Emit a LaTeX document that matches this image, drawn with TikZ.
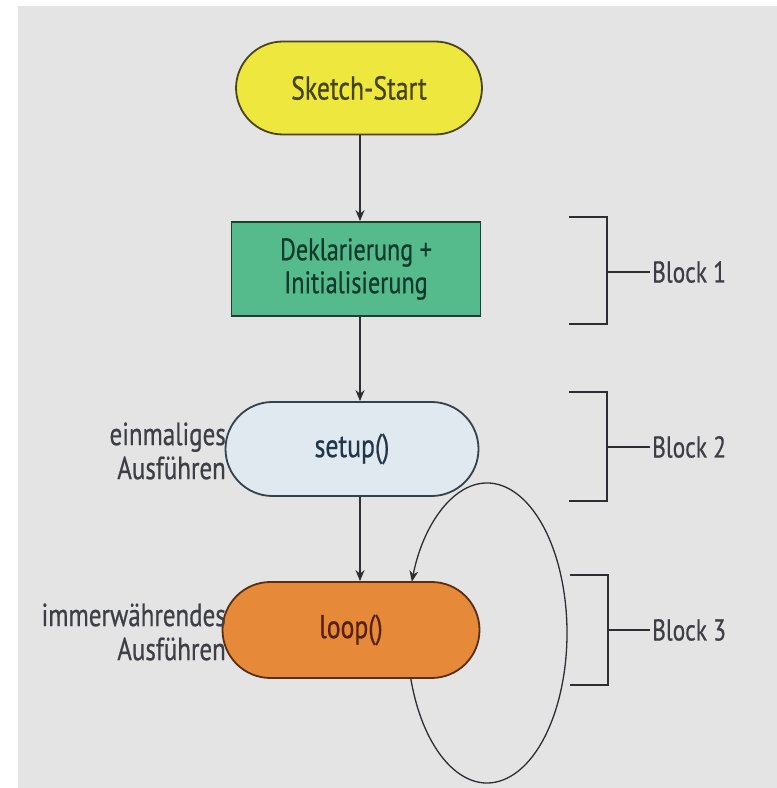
\documentclass[tikz,border=0pt]{standalone}
\usepackage{fontspec}
\setmainfont{PT Sans}[FakeStretch=0.78, FakeBold=0.6]
\usetikzlibrary{arrows.meta}
\definecolor{bggray}{HTML}{E4E4E4}
\definecolor{linegray}{HTML}{2E2E32}
\definecolor{labelgray}{HTML}{3E3E46}
\definecolor{startfill}{HTML}{EEE83E}
\definecolor{startdraw}{HTML}{4A4520}
\definecolor{starttext}{HTML}{454310}
\definecolor{declfill}{HTML}{55BB8C}
\definecolor{decldraw}{HTML}{1F3F30}
\definecolor{decltext}{HTML}{123A2A}
\definecolor{setupfill}{HTML}{DFE9EF}
\definecolor{setupdraw}{HTML}{33414D}
\definecolor{setuptext}{HTML}{22364A}
\definecolor{loopfill}{HTML}{E68A3A}
\definecolor{loopdraw}{HTML}{5A2E14}
\definecolor{looptext}{HTML}{55200C}
\tikzset{
  x=1pt, y=1pt,
  txt/.style={font=\fontsize{33}{36}\selectfont, inner sep=0pt},
  stadium/.style={txt, draw, line width=1.8pt, rounded corners=47pt,
    minimum width=250pt, minimum height=94pt, align=center},
  procbox/.style={txt, draw, line width=1.8pt, rectangle,
    minimum width=249pt, minimum height=94pt, align=center,
    font=\fontsize{31}{33}\selectfont},
  flow/.style={draw=linegray, line width=1.5pt,
    -{Stealth[length=11pt,width=9pt]}},
  sidelabel/.style={inner sep=0pt, text=labelgray, align=right, anchor=east,
    font=\fontsize{32}{34}\selectfont},
  bracket/.style={draw=linegray, line width=1.8pt},
  blocklabel/.style={inner sep=0pt, text=labelgray, anchor=west,
    font=\fontsize{30}{34}\selectfont}
}
\begin{document}
\begin{tikzpicture}
  % page area and grey panel
  \useasboundingbox (0,0) rectangle (777,788);
  \fill[bggray] (18,0) rectangle (777,782);

  % flow chart nodes
  \node[stadium, fill=startfill, draw=startdraw, text=starttext,
        minimum width=246pt, minimum height=93pt] (start) at (359,700) {Sketch-Start};
  \node[procbox, fill=declfill, draw=decldraw, text=decltext] (decl) at (356,519)
        {Deklarierung +\\Initialisierung};
  \node[stadium, fill=setupfill, draw=setupdraw, text=setuptext,
        minimum width=253pt] (setup) at (352,339) {setup()};
  \node[stadium, fill=loopfill, draw=loopdraw, text=looptext,
        minimum width=257pt, minimum height=96pt, rounded corners=48pt] (lp) at (351,158) {loop()};

  % vertical spine of the arrows
  \coordinate (spine) at (360,0);
  \draw[flow] (start.south -| spine) -- (decl.north -| spine);
  \draw[flow] (decl.south -| spine) -- (setup.north -| spine);
  \draw[flow] (setup.south -| spine) -- (lp.north -| spine);

  % endless repetition of loop()
  \coordinate (lc) at (487,155);
  \draw[flow, line width=1.3pt] ([shift={(197.5:80pt and 150pt)}]lc)
        arc[start angle=197.5, end angle=520, x radius=80pt, y radius=150pt];

  % annotations on the left
  \node[sidelabel] (once) at (226,337) {einmaliges\\Ausführen};
  \node[sidelabel] (always) at (226,156) {immerwährendes\\Ausführen};

  % block brackets
  \draw[bracket] (569,571) -- (607,571) -- (607,464) -- (569,464);
  \draw[bracket] (607,516) -- (650,516);
  \node[blocklabel] (b1) at (652,516) {Block 1};

  \draw[bracket] (569,396) -- (607,396) -- (607,287) -- (569,287);
  \draw[bracket] (607,341) -- (650,341);
  \node[blocklabel] (b2) at (652,341) {Block 2};

  \draw[bracket] (570,213) -- (608,213) -- (608,103) -- (570,103);
  \draw[bracket] (608,158) -- (650,158);
  \node[blocklabel] (b3) at (652,158) {Block 3};
\end{tikzpicture}
\end{document}
